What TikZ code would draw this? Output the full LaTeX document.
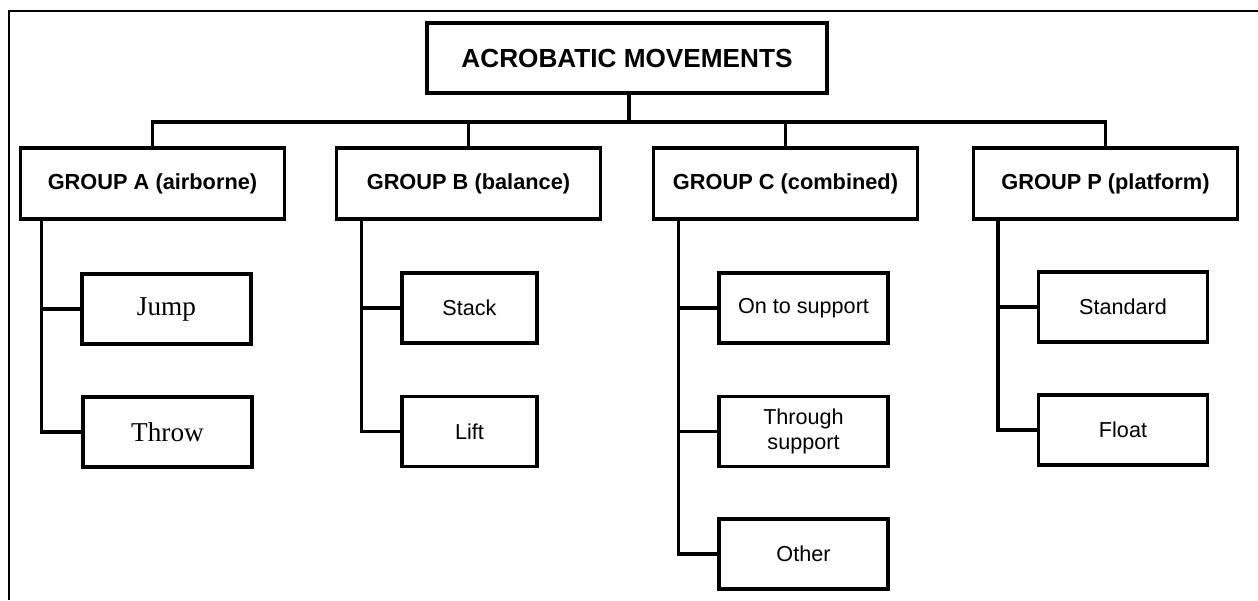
\documentclass[tikz,border=0pt]{standalone}
\usepackage{fontspec}
\setmainfont{Liberation Sans}
\newfontfamily\serifface{Liberation Serif}
\tikzset{
  headbox/.style={draw,line width=2.2pt,fill=white,minimum width=8cm,minimum height=1.4cm,
    font=\bfseries\fontsize{14.9}{17}\selectfont},
  groupbox/.style={draw,line width=2.2pt,fill=white,minimum width=5.28cm,minimum height=1.42cm,
    font=\bfseries\fontsize{12.4}{14}\selectfont},
  itembox/.style={draw,line width=2.2pt,fill=white,minimum width=3.38cm,minimum height=1.4cm,
    align=center,font=\fontsize{12.3}{14}\selectfont},
  link/.style={line width=1.8pt},
}
\begin{document}
\begin{tikzpicture}[x=0.02cm,y=-0.02cm]
\useasboundingbox (0,0) rectangle (1258,600);
% frame
\draw[line width=1.1pt] (9,600) -- (9,11) -- (1258,11);
% top levels
\node[headbox] (moves) at (627,58) {ACROBATIC MOVEMENTS};
\node[groupbox] (ga) at (152.5,183.5) {GROUP A (airborne)};
\node[groupbox] (gb) at (468.5,183.5) {GROUP B (balance)};
\node[groupbox] (gc) at (785.5,183.5) {GROUP C (combined)};
\node[groupbox] (gp) at (1105.5,183.5) {GROUP P (platform)};
% items
\node[itembox,font=\serifface\fontsize{15.5}{18}\selectfont] (jump) at (166.5,309) {Jump};
\node[itembox,font=\serifface\fontsize{15.5}{18}\selectfont] (throw) at (167.5,432) {Throw};
\node[itembox,minimum width=2.7cm] (stack) at (469.5,308) {Stack};
\node[itembox,minimum width=2.7cm] (lift) at (469.5,431.5) {Lift};
\node[itembox] (onto) at (803.5,308) {On to support};
\node[itembox] (through) at (803.5,431.5) {Through\\support};
\node[itembox] (other) at (803.5,554) {Other};
\node[itembox] (standard) at (1123,307) {Standard};
\node[itembox] (float) at (1123,430) {Float};
% bus
\coordinate (bus) at (629,122);
\draw[link] (moves.south -| bus) -- (bus);
\draw[link] (ga.north) -- (ga.north |- bus) -- (gp.north |- bus) -- (gp.north);
\draw[link] (gb.north) -- (gb.north |- bus);
\draw[link] (gc.north) -- (gc.north |- bus);
% branches
\coordinate (sa) at ([xshift=13pt]ga.south west);
\coordinate (sb) at ([xshift=15.5pt]gb.south west);
\coordinate (sc) at ([xshift=15.5pt]gc.south west);
\coordinate (sp) at ([xshift=15pt]gp.south west);
\draw[link] (sa) |- (throw.west);
\draw[link] (sa |- jump.west) -- (jump.west);
\draw[link] (sb) |- (lift.west);
\draw[link] (sb |- stack.west) -- (stack.west);
\draw[link] (sc) |- (other.west);
\draw[link] (sc |- onto.west) -- (onto.west);
\draw[link] (sc |- through.west) -- (through.west);
\draw[link] (sp) |- (float.west);
\draw[link] (sp |- standard.west) -- (standard.west);
\end{tikzpicture}
\end{document}
